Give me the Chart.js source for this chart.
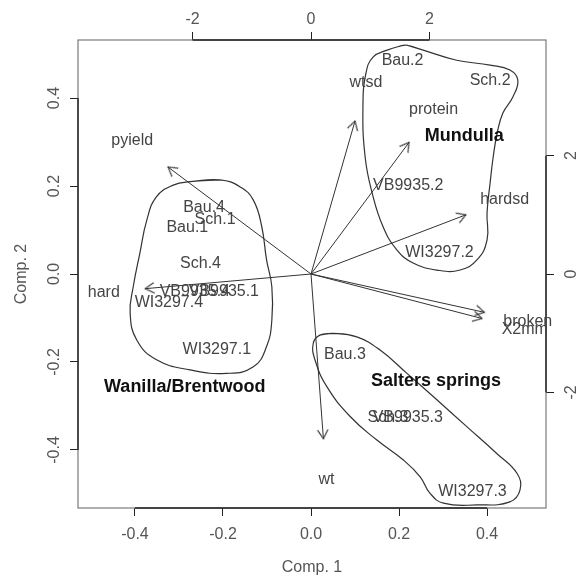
<!DOCTYPE html>
<html><head><meta charset="utf-8">
<script src="https://cdn.jsdelivr.net/npm/chart.js@4.4.0/dist/chart.umd.min.js"></script>
<style>html,body{margin:0;padding:0;background:#fff}</style>
</head><body>
<canvas id="c" width="581" height="577"></canvas>
<script>
// ---- data (scores on primary axes, loadings on secondary axes) ----
const obsLabels = ["Bau.1","Bau.2","Bau.3","Bau.4","Sch.1","Sch.2","Sch.3","Sch.4",
  "VB9935.1","VB9935.2","VB9935.3","VB9935.4","WI3297.1","WI3297.2","WI3297.3","WI3297.4"];
const obsX = [-0.281,0.208,0.077,-0.243,-0.218,0.407,0.175,-0.251,-0.198,0.221,0.220,-0.264,-0.214,0.292,0.367,-0.323];
const obsY = [0.106,0.486,-0.184,0.152,0.123,0.439,-0.327,0.023,-0.041,0.201,-0.327,-0.041,-0.171,0.049,-0.495,-0.066];

const varLabels = ["wtsd","protein","hardsd","broken","X2mm","wt","hard","pyield"];
const varX = [0.929,2.07,3.27,3.66,3.61,0.262,-3.50,-3.02];
const varY = [3.231,2.78,1.25,-0.81,-0.94,-3.48,-0.31,2.26];
const arrowScale = 0.8;

const groupNames = ["Mundulla","Wanilla/Brentwood","Salters springs"];
const groupX = [0.348,-0.287,0.284];
const groupY = [0.314,-0.256,-0.243];

const hullMundulla = [[0.218,0.520],[0.255,0.509],[0.331,0.486],[0.407,0.475],[0.452,0.464],[0.470,0.441],[0.459,0.403],[0.436,0.366],[0.423,0.320],[0.414,0.266],[0.407,0.207],[0.400,0.139],[0.400,0.077],[0.377,0.032],[0.339,0.009],[0.286,0.009],[0.232,0.025],[0.195,0.055],[0.164,0.107],[0.139,0.184],[0.123,0.266],[0.118,0.380],[0.125,0.457],[0.141,0.493],[0.173,0.509],[0.202,0.518]];
const hullWanilla = [[-0.275,0.210],[-0.207,0.214],[-0.161,0.198],[-0.131,0.168],[-0.112,0.108],[-0.101,0.032],[-0.089,-0.029],[-0.089,-0.105],[-0.101,-0.165],[-0.131,-0.211],[-0.192,-0.226],[-0.275,-0.218],[-0.351,-0.195],[-0.396,-0.150],[-0.411,-0.089],[-0.404,-0.029],[-0.389,0.047],[-0.373,0.123],[-0.351,0.176],[-0.313,0.202]];
const hullSalters = [[0.020,-0.139],[0.051,-0.135],[0.104,-0.143],[0.157,-0.173],[0.218,-0.226],[0.286,-0.286],[0.354,-0.347],[0.422,-0.408],[0.468,-0.453],[0.475,-0.491],[0.452,-0.518],[0.377,-0.525],[0.301,-0.521],[0.270,-0.498],[0.248,-0.461],[0.210,-0.423],[0.149,-0.377],[0.089,-0.324],[0.036,-0.256],[0.009,-0.195],[0.005,-0.158]];

const xTicks = [-0.4,-0.2,0.0,0.2,0.4];
const yTicks = [-0.4,-0.2,0.0,0.2,0.4];
const x2Ticks = [-2,0,2];
const y2Ticks = [-2,0,2];

const xLim = [-0.5295, 0.534];
const yLim = [-0.532, 0.532];
const ratio = 7.432; // secondary units per primary unit

// ---- build ----
const FONT = "'Liberation Sans', Arial, Helvetica, sans-serif";
Chart.defaults.font.family = FONT;
Chart.defaults.font.size = 16;
Chart.defaults.color = '#444';

function chevron(){
  const c = document.createElement('canvas'); c.width = c.height = 26;
  const g = c.getContext('2d'); g.strokeStyle = '#333'; g.lineWidth = 1.1;
  g.beginPath(); g.moveTo(13-9,13-5.2); g.lineTo(13,13); g.lineTo(13-9,13+5.2); g.stroke();
  return c;
}
const chev = chevron();

function closeLoop(h){ const pts = h.map(p=>({x:p[0],y:p[1]})); pts.push({x:h[0][0],y:h[0][1]}); pts.push({x:h[1][0],y:h[1][1]}); return pts; }

const datasets = [];
[hullMundulla, hullWanilla, hullSalters].forEach(h => datasets.push({
  type:'scatter', data: closeLoop(h), showLine:true, tension:0.45, borderColor:'#333', borderWidth:1.2,
  pointRadius:0, fill:false, xAxisID:'x', yAxisID:'y'
}));
varLabels.forEach((v,i) => {
  const ex = varX[i]*arrowScale, ey = varY[i]*arrowScale;
  const ang = Math.atan2(-ey, ex)*180/Math.PI;
  datasets.push({
    type:'scatter', data:[{x:0,y:0},{x:ex,y:ey}], showLine:true, tension:0,
    borderColor:'#333', borderWidth:1, pointRadius:[0,6], pointStyle:chev, pointRotation:[0,ang],
    xAxisID:'x2', yAxisID:'y2'
  });
});
// invisible carriers for labels
datasets.push({type:'scatter', label:'obs', data: obsX.map((x,i)=>({x, y:obsY[i]})), pointRadius:0, xAxisID:'x', yAxisID:'y'});

function fixTicks(arr){ return s => { s.ticks = arr.map(v=>({value:v})); }; }
const gridOpt = {display:true, drawOnChartArea:false, drawTicks:true, tickLength:8, tickColor:'#222', tickWidth:1};

const overlay = {
  id:'overlay',
  beforeDatasetsDraw(chart){
    const {ctx, chartArea:a, scales} = chart;
    ctx.save();
    ctx.strokeStyle = '#7a7a7a'; ctx.lineWidth = 1.2;
    ctx.strokeRect(a.left, a.top, a.right-a.left, a.bottom-a.top);
    ctx.strokeStyle = '#222'; ctx.lineWidth = 1.4;
    ctx.beginPath();
    ctx.moveTo(scales.x.getPixelForValue(xTicks[0]), a.bottom); ctx.lineTo(scales.x.getPixelForValue(xTicks[xTicks.length-1]), a.bottom);
    ctx.moveTo(scales.x2.getPixelForValue(x2Ticks[0]), a.top); ctx.lineTo(scales.x2.getPixelForValue(x2Ticks[x2Ticks.length-1]), a.top);
    ctx.moveTo(a.left, scales.y.getPixelForValue(yTicks[0])); ctx.lineTo(a.left, scales.y.getPixelForValue(yTicks[yTicks.length-1]));
    ctx.moveTo(a.right, scales.y2.getPixelForValue(y2Ticks[0])); ctx.lineTo(a.right, scales.y2.getPixelForValue(y2Ticks[y2Ticks.length-1]));
    ctx.stroke();
    ctx.restore();
  },
  afterDatasetsDraw(chart){
    const {ctx, scales} = chart;
    ctx.save();
    ctx.textAlign = 'center'; ctx.textBaseline = 'middle';
    ctx.font = '16px ' + FONT; ctx.fillStyle = '#444';
    obsLabels.forEach((t,i) => ctx.fillText(t, scales.x.getPixelForValue(obsX[i]), scales.y.getPixelForValue(obsY[i])));
    varLabels.forEach((t,i) => ctx.fillText(t, scales.x2.getPixelForValue(varX[i]), scales.y2.getPixelForValue(varY[i])));
    ctx.font = 'bold 18px ' + FONT; ctx.fillStyle = '#111';
    groupNames.forEach((t,i) => ctx.fillText(t, scales.x.getPixelForValue(groupX[i]), scales.y.getPixelForValue(groupY[i])));
    ctx.restore();
  }
};

new Chart(document.getElementById('c'), {
  data:{datasets},
  options:{
    responsive:false, animation:false, events:[],
    layout:{padding:0},
    plugins:{legend:{display:false}, tooltip:{enabled:false}},
    scales:{
      x:{type:'linear', position:'bottom', min:xLim[0], max:xLim[1], afterBuildTicks:fixTicks(xTicks),
        afterFit:s=>{s.height=69;}, grid:gridOpt, border:{display:false},
        ticks:{padding:9, color:'#555', callback:v=>v.toFixed(1)},
        title:{display:true, text:'Comp. 1', color:'#555', padding:{top:0,bottom:0}, font:{size:16}}},
      y:{type:'linear', position:'left', min:yLim[0], max:yLim[1], afterBuildTicks:fixTicks(yTicks),
        afterFit:s=>{s.width=78;}, grid:gridOpt, border:{display:false},
        ticks:{padding:2, color:'#555', minRotation:90, maxRotation:90, crossAlign:'center', callback:v=>v.toFixed(1)},
        title:{display:true, text:'Comp. 2', color:'#555', padding:{top:12,bottom:0}, font:{size:16}}},
      x2:{type:'linear', position:'top', min:xLim[0]*ratio, max:xLim[1]*ratio, afterBuildTicks:fixTicks(x2Ticks),
        afterFit:s=>{s.height=40;}, grid:gridOpt, border:{display:false},
        ticks:{padding:3, color:'#555', callback:v=>String(v)}},
      y2:{type:'linear', position:'right', min:yLim[0]*ratio, max:yLim[1]*ratio, afterBuildTicks:fixTicks(y2Ticks),
        afterFit:s=>{s.width=35;}, grid:gridOpt, border:{display:false},
        ticks:{padding:10, color:'#555', minRotation:90, maxRotation:90, crossAlign:'center', callback:v=>String(v)}}
    }
  },
  plugins:[overlay]
});
</script>
</body></html>
